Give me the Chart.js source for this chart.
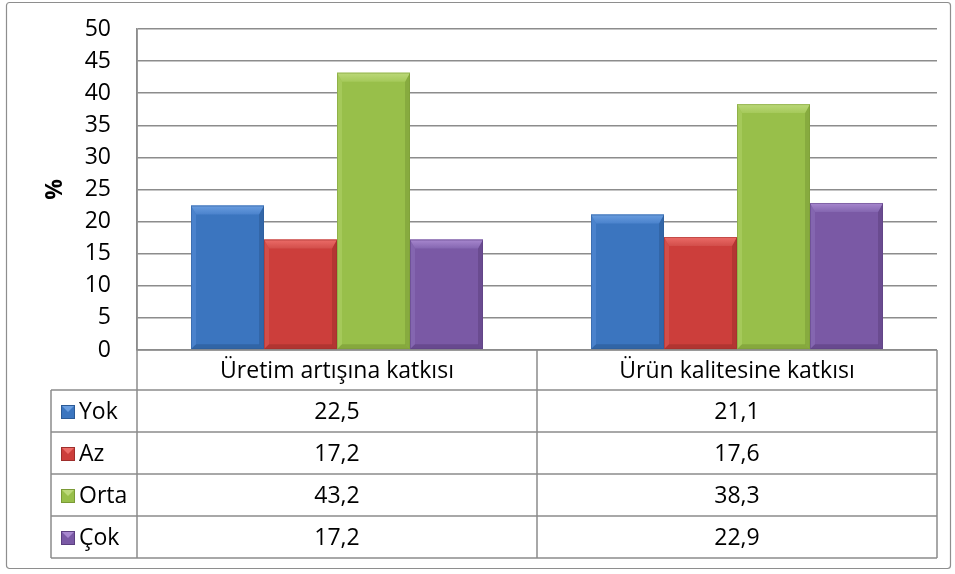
<!DOCTYPE html>
<html>
<head>
<meta charset="utf-8">
<script src="https://cdn.jsdelivr.net/npm/chart.js@4.4.0/dist/chart.umd.min.js"></script>
<style>
html,body{margin:0;padding:0;background:#fff;}
#wrap{width:955px;height:574px;position:relative;}
</style>
</head>
<body>
<div id="wrap"><canvas id="c" width="955" height="574"></canvas></div>
<script>
const categories = ["Üretim artışına katkısı", "Ürün kalitesine katkısı"];
const seriesNames = ["Yok", "Az", "Orta", "Çok"];
const yok = [22.5, 21.1];
const az = [17.2, 17.6];
const orta = [43.2, 38.3];
const cok = [17.2, 22.9];
const yTicks = [0, 5, 10, 15, 20, 25, 30, 35, 40, 45, 50];
const yTitle = "%";

const palette = [
  {base:"#3b75bf", light:"#6a9ee0", dark:"#2b5a96", side:"#4a82cc"},
  {base:"#cc3e3b", light:"#ec6c68", dark:"#9e2e2c", side:"#d24e4a"},
  {base:"#98bf4a", light:"#bcd97a", dark:"#7a9a36", side:"#a5c95a"},
  {base:"#7a59a5", light:"#a888cf", dark:"#5c4080", side:"#8466b0"}
];
const FONT = "'Open Sans', Lato, sans-serif";
const FSIZE = 23;
const gridColor = "#8c8c8c";

const seriesValues = [yok, az, orta, cok];

const bevelPlugin = {
  id: 'bevel',
  afterDatasetsDraw(chart) {
    const ctx = chart.ctx;
    chart.data.datasets.forEach((ds, di) => {
      const meta = chart.getDatasetMeta(di);
      const col = palette[di];
      meta.data.forEach(bar => {
        const w = bar.width;
        const l = bar.x - w/2, r = bar.x + w/2;
        const t = bar.y, b = bar.base;
        const bv = 9, sv = 5;
        ctx.save();
        ctx.fillStyle = col.side;
        ctx.beginPath();
        ctx.moveTo(l, t); ctx.lineTo(l+sv, t+bv); ctx.lineTo(l+sv, b-sv); ctx.lineTo(l, b); ctx.closePath(); ctx.fill();
        ctx.fillStyle = col.dark;
        ctx.globalAlpha = 0.55;
        ctx.beginPath();
        ctx.moveTo(r, t); ctx.lineTo(r-sv, t+bv); ctx.lineTo(r-sv, b-sv); ctx.lineTo(r, b); ctx.closePath(); ctx.fill();
        ctx.globalAlpha = 0.6;
        ctx.beginPath();
        ctx.moveTo(l, b); ctx.lineTo(l+sv, b-sv); ctx.lineTo(r-sv, b-sv); ctx.lineTo(r, b); ctx.closePath(); ctx.fill();
        ctx.globalAlpha = 1;
        const g = ctx.createLinearGradient(0, t, 0, t+bv);
        g.addColorStop(0, col.light);
        g.addColorStop(1, col.side);
        ctx.fillStyle = g;
        ctx.beginPath();
        ctx.moveTo(l, t); ctx.lineTo(r, t); ctx.lineTo(r-sv, t+bv); ctx.lineTo(l+sv, t+bv); ctx.closePath(); ctx.fill();
        ctx.strokeStyle = col.dark;
        ctx.globalAlpha = 0.5;
        ctx.lineWidth = 1;
        ctx.strokeRect(l+0.5, t+0.5, w-1, b-t-1);
        ctx.restore();
      });
    });
  }
};

const framePlugin = {
  id: 'frame',
  beforeDraw(chart) {
    const ctx = chart.ctx;
    ctx.save();
    ctx.fillStyle = '#fff';
    ctx.fillRect(0, 0, chart.width, chart.height);
    ctx.strokeStyle = '#8e8e8e';
    ctx.lineWidth = 1.2;
    ctx.beginPath();
    ctx.roundRect(6.5, 2.5, 944, 566, 3);
    ctx.stroke();
    ctx.restore();
  },
  afterDraw(chart) {
    const ctx = chart.ctx;
    const xs = chart.scales.x;
    const {left, right, bottom, top} = chart.chartArea;
    const p0 = xs.getPixelForValue(0), p1 = xs.getPixelForValue(1);
    const mid = (p0 + p1) / 2;
    const headerH = 40, rowH = 42;
    const tableLeft = 51;
    const rowTop = bottom + headerH;
    const tableBottom = rowTop + rowH * seriesNames.length;
    ctx.save();
    ctx.strokeStyle = gridColor;
    ctx.lineWidth = 1.5;
    ctx.beginPath();
    ctx.moveTo(left, bottom); ctx.lineTo(right, bottom);
    for (let i = 0; i <= seriesNames.length; i++) {
      const y = rowTop + rowH * i;
      ctx.moveTo(tableLeft, y); ctx.lineTo(right, y);
    }
    ctx.moveTo(tableLeft, rowTop); ctx.lineTo(tableLeft, tableBottom);
    ctx.moveTo(left, top); ctx.lineTo(left, tableBottom);
    ctx.moveTo(mid, bottom); ctx.lineTo(mid, tableBottom);
    ctx.moveTo(right, bottom); ctx.lineTo(right, tableBottom);
    ctx.stroke();

    ctx.fillStyle = '#000';
    ctx.font = FSIZE + "px " + FONT;
    ctx.textAlign = 'center';
    ctx.textBaseline = 'middle';
    const centers = [ (left+mid)/2, (mid+right)/2 ];
    categories.forEach((c, i) => ctx.fillText(c, centers[i], bottom + headerH/2 + 1));
    seriesNames.forEach((s, si) => {
      const yc = rowTop + rowH*si + rowH/2 + 1;
      seriesValues[si].forEach((v, ci) => {
        ctx.fillText(v.toFixed(1).replace('.', ','), centers[ci], yc);
      });
      const col = palette[si];
      const kx = 61, ks = 14, ky = yc - ks/2;
      ctx.fillStyle = col.base;
      ctx.fillRect(kx, ky, ks, ks);
      ctx.fillStyle = col.light;
      ctx.beginPath();
      ctx.moveTo(kx, ky); ctx.lineTo(kx+ks, ky); ctx.lineTo(kx+ks/2, ky+ks/2); ctx.closePath(); ctx.fill();
      ctx.strokeStyle = col.dark; ctx.lineWidth = 1;
      ctx.strokeRect(kx+0.5, ky+0.5, ks-1, ks-1);
      ctx.fillStyle = '#000';
      ctx.textAlign = 'left';
      ctx.fillText(s, 79, yc);
      ctx.textAlign = 'center';
    });
    ctx.restore();
  }
};

new Chart(document.getElementById('c'), {
  type: 'bar',
  data: {
    labels: categories,
    datasets: seriesNames.map((n, i) => ({
      label: n,
      data: seriesValues[i],
      backgroundColor: palette[i].base,
      borderWidth: 0,
      categoryPercentage: 0.73,
      barPercentage: 1.0
    }))
  },
  options: {
    responsive: false,
    animation: false,
    devicePixelRatio: 1,
    layout: { padding: { left: 0, top: 29, right: 18, bottom: 224 } },
    plugins: { legend: { display: false }, tooltip: { enabled: false } },
    scales: {
      x: { display: false, offset: true },
      y: {
        min: 0, max: 50,
        afterFit(scale) { scale.width = 137; scale.paddingTop = 0; scale.paddingBottom = 0; },
        afterBuildTicks(scale) { scale.ticks = yTicks.map(v => ({value: v})); },
        ticks: { color: '#000', font: { size: FSIZE, family: FONT }, padding: 26 },
        grid: { color: gridColor, lineWidth: 1.5, drawTicks: false },
        border: { display: true, color: gridColor, width: 1.5 },
        title: { display: true, text: yTitle, color: '#000', font: { size: FSIZE, weight: 'bold', family: FONT }, padding: { top: 42, bottom: 0 } }
      }
    }
  },
  plugins: [framePlugin, bevelPlugin]
});
</script>
</body>
</html>
